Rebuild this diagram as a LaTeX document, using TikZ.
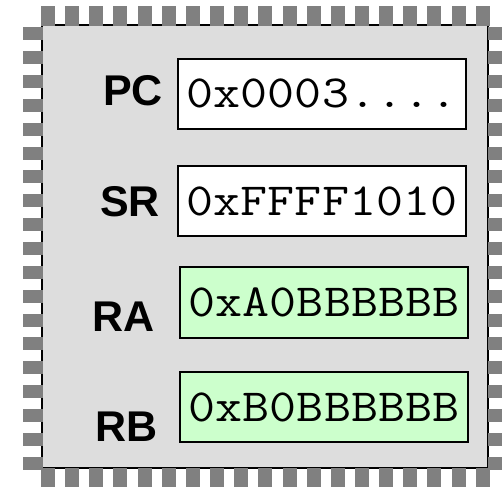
\documentclass[tikz,border=0pt]{standalone}
\usepackage{fontspec}
\setmainfont{Liberation Sans}
\newfontfamily\regmono{Latin Modern Mono}[FakeStretch=1.14]
\definecolor{bodygray}{HTML}{DDDDDD}
\definecolor{pingray}{HTML}{808080}
\definecolor{lightgreen}{HTML}{CCFFCC}
\begin{document}
\begin{tikzpicture}[x=1pt,y=-1pt,
  pin/.style={fill=pingray,draw=none},
  chipbody/.style={draw=black,line width=2pt,fill=bodygray,inner sep=0pt},
  regbox/.style={draw=black,line width=2pt,inner sep=0pt,font=\regmono\fontsize{46}{46}\selectfont,text height=28pt,text depth=0pt},
  whitebox/.style={regbox,fill=white},
  greenbox/.style={regbox,fill=lightgreen},
  reglabel/.style={font=\bfseries\fontsize{43}{43}\selectfont,inner sep=0pt,anchor=base east}]
\useasboundingbox (0,0) rectangle (502,486);
\clip (0,0) rectangle (502,486);
\node[chipbody,minimum width=446pt,minimum height=443pt] (chip) at (265,246.5) {};
\foreach \i in {0,...,18} {
  \fill[pin] ({41+24.15*\i},6) rectangle ++(14,20);
  \fill[pin] ({41+24.15*\i},468) rectangle ++(14,20);
  \fill[pin] (23,{27.3+23.86*\i}) rectangle ++(20,13);
  \fill[pin] (488,{27.3+23.86*\i}) rectangle ++(20,13);
}
\node[whitebox,minimum width=288pt,minimum height=70pt] (pc) at (322,94) {0x0003....};
\node[whitebox,minimum width=288pt,minimum height=70pt] (sr) at (322,201) {0xFFFF1010};
\node[greenbox,minimum width=288pt,minimum height=71pt] (ra) at (324,302.5) {0xA0BBBBBB};
\node[greenbox,minimum width=288pt,minimum height=70pt] (rb) at (324,407) {0xB0BBBBBB};
\node[reglabel] (pcl) at (163,106) {PC};
\node[reglabel] (srl) at (160,216) {SR};
\node[reglabel] (ral) at (155,331) {RA};
\node[reglabel] (rbl) at (158,441) {RB};
\end{tikzpicture}
\end{document}
